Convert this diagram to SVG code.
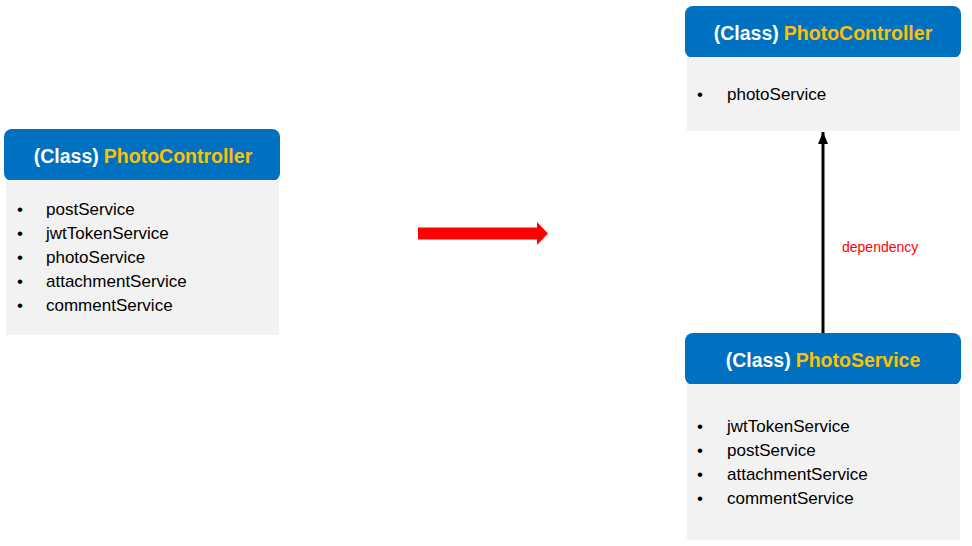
<svg xmlns="http://www.w3.org/2000/svg" width="972" height="546" viewBox="0 0 972 546">
<defs>
<style>
.hdr{fill:#0070C0}
.body{fill:#F2F2F2}
.title{font-family:"Liberation Sans",Arial,sans-serif;font-weight:bold;font-size:19.5px;text-anchor:middle}
.cls{fill:#FFFFFF}
.name{fill:#FFC000}
.item{font-family:"Liberation Sans",Arial,sans-serif;font-size:17px;fill:#000}
.dep{font-family:"Liberation Sans",Arial,sans-serif;font-size:14px;fill:#FF0000}
</style>
<marker id="ah" viewBox="0 0 12 10" refX="12" refY="5" markerWidth="12" markerHeight="10" markerUnits="userSpaceOnUse" orient="auto">
<path d="M0,0 L12,5 L0,10 Z" fill="#000"/>
</marker>
</defs>
<rect width="972" height="546" fill="#FFFFFF"/>

<g id="node-left-photocontroller">
<rect class="hdr" x="4" y="129" width="276" height="52" rx="8" ry="8"/>
<rect class="body" x="6" y="180" width="273" height="155"/>
<text class="title" x="143" y="163"><tspan class="cls">(Class)</tspan><tspan class="name" dx="5">PhotoController</tspan></text>
<text class="item" x="17" y="215">•</text><text class="item" x="46" y="215">postService</text>
<text class="item" x="17" y="239">•</text><text class="item" x="46" y="239">jwtTokenService</text>
<text class="item" x="17" y="263">•</text><text class="item" x="46" y="263">photoService</text>
<text class="item" x="17" y="287">•</text><text class="item" x="46" y="287">attachmentService</text>
<text class="item" x="17" y="311">•</text><text class="item" x="46" y="311">commentService</text>
</g>

<g id="node-right-photocontroller">
<rect class="hdr" x="685" y="6" width="276" height="52" rx="8" ry="8"/>
<rect class="body" x="687" y="57" width="273" height="74"/>
<text class="title" x="823" y="40"><tspan class="cls">(Class)</tspan><tspan class="name" dx="5">PhotoController</tspan></text>
<text class="item" x="697" y="100">•</text><text class="item" x="727" y="100">photoService</text>
</g>

<g id="node-photoservice">
<rect class="hdr" x="685" y="333" width="276" height="52" rx="8" ry="8"/>
<rect class="body" x="687" y="384" width="273" height="156"/>
<text class="title" x="823" y="367"><tspan class="cls">(Class)</tspan><tspan class="name" dx="5">PhotoService</tspan></text>
<text class="item" x="697" y="432">•</text><text class="item" x="727" y="432">jwtTokenService</text>
<text class="item" x="697" y="456">•</text><text class="item" x="727" y="456">postService</text>
<text class="item" x="697" y="480">•</text><text class="item" x="727" y="480">attachmentService</text>
<text class="item" x="697" y="504">•</text><text class="item" x="727" y="504">commentService</text>
</g>

<g id="connectors">
<path d="M418,227.5 H537 V222 L548,233.5 L537,245 V239.5 H418 Z" fill="#FF0000"/>
<line x1="823" y1="333" x2="823" y2="132" stroke="#000" stroke-width="3" marker-end="url(#ah)"/>
<text class="dep" x="842" y="252">dependency</text>
</g>
</svg>
